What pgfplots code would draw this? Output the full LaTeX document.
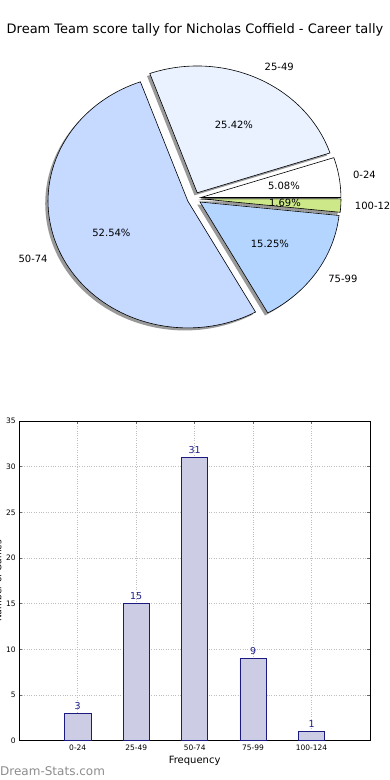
\documentclass[border=0pt]{standalone}
\usepackage{fontspec}
\setmainfont{DejaVu Sans}
\usepackage{pgfplots}
\pgfplotsset{compat=1.18}
\definecolor{cA}{RGB}{255,255,255}
\definecolor{cB}{RGB}{234,242,255}
\definecolor{cC}{RGB}{198,217,255}
\definecolor{cD}{RGB}{179,213,255}
\definecolor{cE}{RGB}{204,232,136}
\definecolor{barfill}{RGB}{204,204,229}
\definecolor{baredge}{RGB}{26,26,128}
\definecolor{valtext}{RGB}{30,30,140}
\newcommand\lbl{\fontsize{10}{12}\selectfont}
% total of the tally: 3+15+31+9+1 = 59
\newcommand\pieshadow[2]{%
  \pgfmathsetmacro\psa{360/59*#1}%
  \pgfmathsetmacro\pea{360/59*#2}%
  \pgfmathsetmacro\pma{(\psa+\pea)/2}%
  \pgfmathsetmacro\pdx{0.05*cos(\pma)-0.02}%
  \pgfmathsetmacro\pdy{0.05*sin(\pma)-0.02}%
  \edef\tmp{\noexpand\addplot[draw=none, fill=black, fill opacity=0.4, domain=\psa:\pea, samples=90] ({\pdx+cos(x)},{\pdy+sin(x)}) -- (axis cs:\pdx,\pdy) -- cycle;}%
  \tmp}
\newcommand\pieslice[5]{%
  \pgfmathsetmacro\psa{360/59*#1}%
  \pgfmathsetmacro\pea{360/59*#2}%
  \pgfmathsetmacro\pma{(\psa+\pea)/2}%
  \pgfmathsetmacro\pcm{cos(\pma)}%
  \pgfmathsetmacro\psm{sin(\pma)}%
  \pgfmathsetmacro\pdx{0.05*\pcm}%
  \pgfmathsetmacro\pdy{0.05*\psm}%
  \pgfmathsetmacro\plx{1.15*\pcm}%
  \pgfmathsetmacro\ply{1.15*\psm}%
  \pgfmathsetmacro\pqx{0.65*\pcm}%
  \pgfmathsetmacro\pqy{0.65*\psm}%
  \ifdim\pcm pt>0pt \def\panc{west}\else\def\panc{east}\fi
  \edef\tmp{\noexpand\addplot[fill=#3, draw=black, line width=0.6pt, domain=\psa:\pea, samples=90] ({\pdx+cos(x)},{\pdy+sin(x)}) -- (axis cs:\pdx,\pdy) -- cycle;
    \noexpand\node[anchor=\panc, font=\noexpand\lbl, inner sep=0pt] at (axis cs:\plx,\ply) {#4};
    \noexpand\node[font=\noexpand\lbl, inner sep=0pt] at (axis cs:\pqx,\pqy) {#5};}%
  \tmp}
\begin{document}
\begin{tikzpicture}[x=1pt,y=1pt]
\useasboundingbox (0,0) rectangle (390,780);
\node[font=\fontsize{13}{15}\selectfont] at (195,750) {Dream Team score tally for Nicholas Coffield - Career tally};
% ---------- pie ----------
\begin{axis}[at={(0pt,410pt)}, anchor=south west, scale only axis,
  width=390pt, height=320pt, hide axis, clip=false,
  xmin=-1.389, xmax=1.4006, ymin=-1.3525, ymax=1.171]
\pieshadow{0}{3}
\pieshadow{3}{18}
\pieshadow{18}{49}
\pieshadow{49}{58}
\pieshadow{58}{59}
\pieslice{0}{3}{cA}{0-24}{5.08\%}
\pieslice{3}{18}{cB}{25-49}{25.42\%}
\pieslice{18}{49}{cC}{50-74}{52.54\%}
\pieslice{49}{58}{cD}{75-99}{15.25\%}
\pieslice{58}{59}{cE}{100-124}{1.69\%}
\end{axis}
% ---------- bars ----------
\begin{axis}[at={(19.3pt,39.3pt)}, anchor=south west, scale only axis,
  width=350.7pt, height=319.7pt,
  xmin=-1, xmax=5, ymin=0, ymax=35,
  ytick={0,5,...,35}, xtick={0,1,2,3,4},
  xticklabels={0-24,25-49,50-74,75-99,100-124},
  /pgf/number format/assume math mode=true,
  tick label style={font=\fontsize{7.5}{9}\selectfont},
  xticklabel style={yshift=-1pt},
  grid=major, grid style={dotted, color=black!25, line width=0.9pt},
  tick align=inside, tick pos=both, major tick length=3pt,
  tick style={black!60, line width=0.6pt},
  axis line style={line width=0.8pt},
  xlabel={Frequency},
  xlabel style={font=\fontsize{10}{12}\selectfont, at={(axis description cs:0.5,0)}, anchor=center, yshift=-20pt},
  ylabel={Number of Games},
  ylabel style={font=\fontsize{9}{11}\selectfont, at={(axis description cs:-0.061,0.5)}, anchor=center},
  ]
\addplot[ybar, bar width=0.45, fill=barfill, draw=baredge, line width=0.8pt,
  nodes near coords, nodes near coords style={font=\fontsize{9.5}{11}\selectfont, text=valtext}]
  coordinates {(0,3) (1,15) (2,31) (3,9) (4,1)};
\end{axis}
\node[anchor=west, font=\fontsize{12}{14}\selectfont, text=black!45, inner sep=0pt] at (0,9) {Dream-Stats.com};
\end{tikzpicture}
\end{document}
